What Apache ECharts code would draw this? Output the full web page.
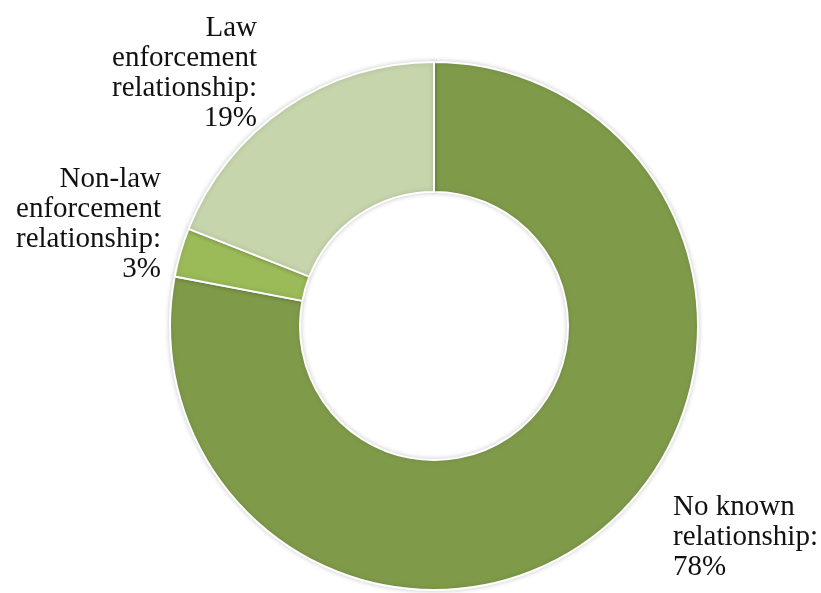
<!DOCTYPE html>
<html>
<head>
<meta charset="utf-8">
<script src="https://cdn.jsdelivr.net/npm/echarts@6/dist/echarts.min.js"></script>
<style>
  html, body { margin: 0; padding: 0; background: #ffffff; }
  #chart { width: 821px; height: 593px; }
</style>
</head>
<body>
<div id="chart"></div>
<script>
// Relationship breakdown (percent of cases)
const categories = ['No known\nrelationship:', 'Non-law\nenforcement\nrelationship:', 'Law\nenforcement\nrelationship:'];
const values = [78, 3, 19];
const colors = ['#7F9B4A', '#9BBB59', '#C6D5AC'];

// Where each label block sits, and which side it aligns to
const labelSpots = [
  { x: 673, y: 492, align: 'left' },
  { x: 161, y: 164, align: 'right' },
  { x: 257, y: 13, align: 'right' }
];

const chart = echarts.init(document.getElementById('chart'), null, { renderer: 'canvas' });

chart.setOption({
  backgroundColor: '#ffffff',
  animation: false,
  series: [{
    type: 'pie',
    center: [434, 326],
    radius: [134, 264],
    startAngle: 90,
    clockwise: true,
    avoidLabelOverlap: false,
    data: categories.map((name, i) => ({
      name: name,
      value: values[i],
      itemStyle: { color: colors[i] }
    })),
    itemStyle: {
      borderColor: '#ffffff',
      borderWidth: 2,
      shadowBlur: 5,
      shadowColor: 'rgba(0,0,0,0.18)'
    },
    label: {
      show: true,
      position: 'outside',
      formatter: p => p.name + '\n' + p.value + '%',
      fontFamily: '"Liberation Serif", serif',
      fontSize: 29,
      lineHeight: 30,
      color: '#111111'
    },
    labelLine: { show: false },
    labelLayout: params => {
      const s = labelSpots[params.dataIndex];
      return { x: s.x, y: s.y, align: s.align, verticalAlign: 'top' };
    },
    emphasis: { disabled: true }
  }]
});
</script>
</body>
</html>
